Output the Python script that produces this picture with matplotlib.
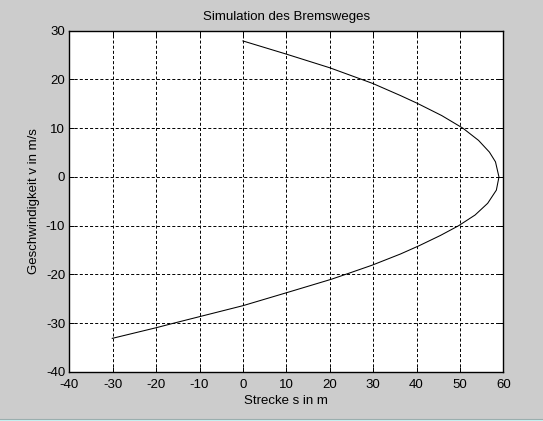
import matplotlib
matplotlib.use("Agg")
import matplotlib.pyplot as plt
from matplotlib.lines import Line2D

plt.rcParams['font.family'] = ['Liberation Sans', 'DejaVu Sans']
plt.rcParams['lines.scale_dashes'] = False

# Data (distance s in m, velocity v in m/s)
strecke = [0, 10, 20, 27.4, 30, 36.3, 40.2, 45.8, 50.7, 54.3, 56.8, 58.2, 59.0,
           58.4, 56.4, 53.5, 49.7, 45.5, 40.6, 36.3, 29.75, 23.6, 20.3, 10.2, 0,
           -10, -16, -19.9, -30.1]
geschw = [27.9, 25.2, 22.4, 20, 19.15, 16.7, 15.1, 12.6, 10, 7.5, 5.1, 3.1, 0,
          -2.7, -5.4, -7.8, -10, -12.0, -14.1, -15.8, -18.1, -20, -21, -23.7, -26.4,
          -28.65, -30, -30.9, -33.1]

xticks = [-40, -30, -20, -10, 0, 10, 20, 30, 40, 50, 60]
yticks = [-40, -30, -20, -10, 0, 10, 20, 30]

bg = '#cccccc'
fs = 9.5
fig = plt.figure(figsize=(5.43, 4.21), dpi=100, facecolor=bg)
ax = fig.add_axes([69.3 / 543, 1 - 372 / 421, (503.3 - 69.3) / 543, (372 - 30.7) / 421])
ax.set_facecolor('white')

ax.plot(strecke, geschw, color='black', linewidth=0.75, zorder=3)

ax.set_xlim(-40, 60)
ax.set_ylim(-40, 30)
ax.set_xticks(xticks)
ax.set_yticks(yticks)
ax.set_xticklabels([str(t) for t in xticks])
ax.set_yticklabels([str(t) for t in yticks])

ax.grid(True, color='black', linewidth=0.7, linestyle=(0, (2.2, 1.5)))
ax.tick_params(direction='in', length=3.5, width=0.7, top=True, right=True,
               labelsize=fs, colors='black')
ax.tick_params(axis='x', pad=5)
ax.tick_params(axis='y', pad=3)
for sp in ax.spines.values():
    sp.set_linewidth(1.0)
    sp.set_color('black')

ax.set_title('Simulation des Bremsweges', fontsize=fs, pad=7.5)
ax.set_xlabel('Strecke s in m', fontsize=fs, labelpad=3)
ax.set_ylabel('Geschwindigkeit v in m/s', fontsize=fs, labelpad=4)

# window border strip at the bottom
fig.add_artist(Line2D([0, 1], [2.5 / 421, 2.5 / 421], transform=fig.transFigure,
                      color='#9aaeae', linewidth=0.8))
fig.patches.append(plt.Rectangle((0, 0), 1, 2.2 / 421, transform=fig.transFigure,
                                 facecolor='#c8f4f4', edgecolor='none'))

fig.savefig('out.png', dpi=100, facecolor=bg)
